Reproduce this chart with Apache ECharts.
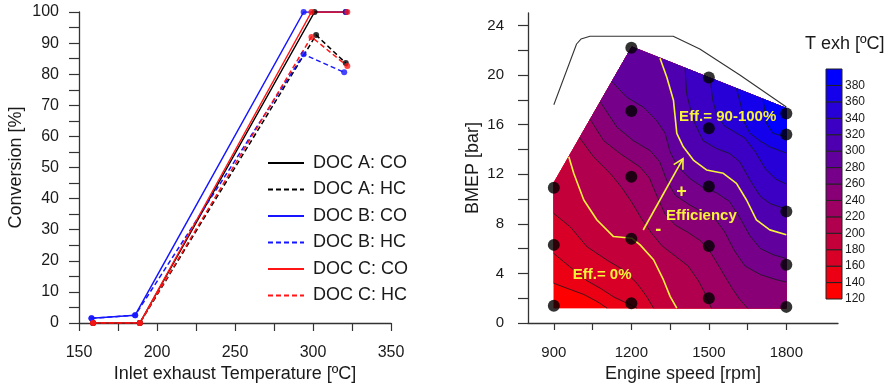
<!DOCTYPE html>
<html><head><meta charset="utf-8">
<script src="https://cdn.jsdelivr.net/npm/echarts@6/dist/echarts.min.js"></script>
<style>html,body{margin:0;padding:0;background:#fff}#c{width:894px;height:389px}</style>
</head><body><div id="c"></div>
<script>
// ================= LEFT CHART DATA =================
const docA_CO = [[159,0],[189,0],[301,100],[321,100]];
const docA_HC = [[159,0],[189,0],[302,92.6],[321,83.6]];
const docB_CO = [[158,1.5],[186,2.5],[294,100],[321,100]];
const docB_HC = [[158,1.5],[186,2.5],[294,86.4],[320,80.6]];
const docC_CO = [[159,0],[189,0],[299,100],[322,100]];
const docC_HC = [[159,0],[189,0],[299,92],[322,82.6]];
const seriesNames = ['DOC A: CO','DOC A: HC','DOC B: CO','DOC B: HC','DOC C: CO','DOC C: HC'];
const tempLabels = [150,200,250,300,350];
const tempTicks = [150,175,200,225,250,275,300,325,350];
const convLabels = [0,10,20,30,40,50,60,70,80,90,100];
const convTicks = [0,5,10,15,20,25,30,35,40,45,50,55,60,65,70,75,80,85,90,95,100];

// ================= RIGHT CHART DATA =================
const rpmLabels = [900,1200,1500,1800];
const rpmTicks = [900,1050,1200,1350,1500,1650,1800];
const bmepLabels = [0,4,8,12,16,20,24];
const bmepTicks = [0,2,4,6,8,10,12,14,16,18,20,22,24];
const measuredPoints = [
  [900,1.4],[900,6.3],[900,10.9],
  [1200,1.6],[1200,6.8],[1200,11.8],[1200,17.1],[1200,22.2],
  [1500,2.0],[1500,6.2],[1500,11.0],[1500,15.7],[1500,19.8],
  [1800,1.3],[1800,4.7],[1800,9.0],[1800,15.2],[1800,16.9]
];
const domainBoundary = [[900,1.2],[1800,1.2],[1800,17.3],[1202,22.26],[900,11.3]];
const fullLoadCurve = [[900,17.6],[988,22.5],[1005,22.9],[1040,23.13],[1362,23.13],[1465,22.1],[1620,20.0],[1800,17.42]];
const isoLevels = [140,160,180,200,220,240,260,280,300,320,340,360,380];
const yellowLevels = [200,300];
const iso140 = [[900,3.2],[951,2.8],[1016,2.3],[1067,1.74],[1106,1.2]];
const iso160 = [[900,5.6],[964,4.5],[1029,3.4],[1080,2.8],[1132,2.1],[1183,1.6],[1222,1.2]];
const iso180 = [[900,8.83],[964,7.75],[1029,6.14],[1106,5.07],[1170,4.27],[1222,3.2],[1260,2.12],[1286,1.2]];
const iso200 = [[958,13.405],[977,12.07],[1016,9.92],[1067,8.31],[1131,6.97],[1202,6.84],[1234,6.30],[1286,5.10],[1324,3.49],[1350,2.15],[1376,1.2]];
const iso220 = [[1000,14.93],[1054,13.4],[1119,12.05],[1160,11.0],[1200,9.8],[1240,8.4],[1280,7.2],[1320,6.2],[1370,5.4],[1420,4.6],[1460,3.4],[1490,2.2],[1510,1.2]];
const iso240 = [[1041,16.417],[1093,14.7],[1157,13.66],[1234,12.58],[1270,11.7],[1300,10.2],[1330,8.8],[1370,7.9],[1420,7.3],[1470,6.6],[1510,5.6],[1550,4.2],[1590,2.8],[1620,1.9],[1650,1.2]];
const iso260 = [[1080,17.832],[1144,15.8],[1208,14.7],[1273,13.9],[1310,13.0],[1337,11.5],[1370,10.3],[1420,9.6],[1470,9.0],[1520,8.5],[1560,7.4],[1600,5.8],[1640,4.6],[1700,3.9],[1760,3.5],[1800,3.3]];
const iso280 = [[1125,19.465],[1183,18.2],[1247,17.4],[1299,16.3],[1331,15.3],[1350,13.8],[1380,12.6],[1430,11.6],[1480,10.9],[1530,10.5],[1580,9.8],[1620,8.5],[1660,7.0],[1700,6.0],[1750,5.5],[1800,5.2]];
const iso300 = [[1311,21.356],[1337,19.84],[1363,17.97],[1376,15.29],[1401,14.21],[1440,13.14],[1491,12.34],[1556,12.07],[1607,11.26],[1646,9.92],[1684,8.31],[1736,7.51],[1800,7.11]];
const iso320 = [[1408,20.551],[1414,18.5],[1427,17.4],[1446,16.1],[1478,14.7],[1530,14.07],[1581,13.66],[1620,13.0],[1660,11.5],[1700,10.2],[1740,9.6],[1800,9.2]];
const iso340 = [[1505,19.747],[1515,18.0],[1530,16.8],[1560,15.9],[1600,15.4],[1640,14.9],[1680,13.8],[1720,12.4],[1760,11.6],[1800,11.2]];
const iso360 = [[1607,18.901],[1626,17.4],[1639,16.1],[1659,15.3],[1697,14.7],[1736,14.2],[1800,13.7]];
const iso380 = [[1710,18.047],[1723,16.1],[1748,15.3],[1800,15.0]];
const isolines = [iso140,iso160,iso180,iso200,iso220,iso240,iso260,iso280,iso300,iso320,iso340,iso360,iso380];
const colorbarLevels = [120,140,160,180,200,220,240,260,280,300,320,340,360,380,400];
const colorbarLabels = [120,140,160,180,200,220,240,260,280,300,320,340,360,380];
const annotationTexts = ['Eff.= 90-100%','Eff.= 0%','Efficiency','+','-'];
const annotationAnchors = [[1573,16.6],[1087,3.86],[1471,8.64],[1394,10.57],[1304,7.49]];
const arrowFrom = [1246,7.5];
const arrowTo = [1400,13.25];

// ================= BUILD =================
const FONT = "'Liberation Sans', Arial, Helvetica, sans-serif";
const TXT = '#1a1a1a';
const AX = '#333';
const YEL = '#f7f23a';
function bandColor(i){ const r=Math.round(255*(13-i)/13), b=Math.round(255*i/13); return 'rgb('+r+',0,'+b+')'; }
function toN(p){ return [p[0]/48, p[1]]; }
function edgeParam(p){
  let best=Infinity, param=0; const P=toN(p);
  for(let k=0;k<domainBoundary.length;k++){
    const A=toN(domainBoundary[k]), B=toN(domainBoundary[(k+1)%domainBoundary.length]);
    const dx=B[0]-A[0], dy=B[1]-A[1];
    let t=((P[0]-A[0])*dx+(P[1]-A[1])*dy)/(dx*dx+dy*dy);
    t=Math.max(0,Math.min(1,t));
    const qx=A[0]+t*dx-P[0], qy=A[1]+t*dy-P[1];
    const d=qx*qx+qy*qy;
    if(d<best){best=d;param=k+t;}
  }
  return param;
}
function hotPolygon(line){
  const n=domainBoundary.length;
  let pS=edgeParam(line[0]), pE=edgeParam(line[line.length-1]);
  if(pS<pE) pS+=n;
  const poly=line.slice();
  for(let k=Math.floor(pE)+1;k<pS;k++) poly.push(domainBoundary[k%n]);
  return poly;
}
const fillLayers=[{poly:domainBoundary,color:bandColor(0)}];
isolines.forEach((ln,i)=>fillLayers.push({poly:hotPolygon(ln),color:bandColor(i+1)}));

const axisCommon = {
  axisLine:{show:true,onZero:false,lineStyle:{color:AX,width:1.3}},
  splitLine:{show:false},
  nameLocation:'middle',
  nameMoveOverlap:false,
  nameTextStyle:{fontSize:18,color:TXT,fontFamily:FONT}
};
function lbl(vals,margin,size){ return {customValues:vals,margin:margin,fontSize:size,color:TXT,fontFamily:FONT,formatter:(v)=>String(v)}; }
function tck(vals,len){ return {show:true,customValues:vals,length:len,lineStyle:{color:AX,width:1.2}}; }

const leftData=[docA_CO,docA_HC,docB_CO,docB_HC,docC_CO,docC_HC];
const leftColors=['#000000','#000000','#1515ff','#1515ff','#ff1515','#ff1515'];
const series=[];
leftData.forEach((d,i)=>{
  series.push({type:'line',name:seriesNames[i],xAxisIndex:0,yAxisIndex:0,data:d,symbol:'none',
    lineStyle:{color:leftColors[i],width:1.5,type:(i%2===1)?[5,3]:'solid'},itemStyle:{color:leftColors[i]},z:2+Math.floor(i/2)});
});
leftData.forEach((d,i)=>{
  series.push({type:'scatter',xAxisIndex:0,yAxisIndex:0,data:d,symbol:'circle',symbolSize:6,
    itemStyle:{color:leftColors[i]},z:5});
});
// contour fills
series.push({type:'custom',xAxisIndex:1,yAxisIndex:1,silent:true,z:1,
  data:fillLayers.map((f,i)=>[f.poly[0][0],f.poly[0][1],i]),
  renderItem:(params,api)=>{ const f=fillLayers[params.dataIndex];
    return {type:'polygon',shape:{points:f.poly.map(p=>api.coord(p))},style:{fill:f.color,stroke:f.color,lineWidth:0.6}}; }
});
// contour lines
isolines.forEach((ln,i)=>{
  const yel=yellowLevels.indexOf(isoLevels[i])>=0;
  series.push({type:'line',xAxisIndex:1,yAxisIndex:1,data:ln,symbol:'none',silent:true,
    lineStyle:{color:yel?YEL:'#1a1a1a',width:yel?1.6:0.8},z:yel?4:3});
});
// full-load curve
series.push({type:'line',xAxisIndex:1,yAxisIndex:1,data:fullLoadCurve,symbol:'none',silent:true,
  lineStyle:{color:'#333',width:1.1},z:3});
// measured points
series.push({type:'scatter',xAxisIndex:1,yAxisIndex:1,data:measuredPoints,symbol:'circle',symbolSize:12,
  itemStyle:{color:'#000'},z:6});
// arrow
series.push({type:'custom',xAxisIndex:1,yAxisIndex:1,silent:true,z:7,data:[[arrowFrom[0],arrowFrom[1],arrowTo[0],arrowTo[1]]],
  renderItem:(params,api)=>{
    const p0=api.coord(arrowFrom), p1=api.coord(arrowTo);
    const ang=Math.atan2(p1[1]-p0[1],p1[0]-p0[0]), L=11, a=0.5;
    const h1=[p1[0]-L*Math.cos(ang-a),p1[1]-L*Math.sin(ang-a)];
    const h2=[p1[0]-L*Math.cos(ang+a),p1[1]-L*Math.sin(ang+a)];
    const st={stroke:YEL,lineWidth:1.6,fill:null};
    return {type:'group',children:[
      {type:'line',shape:{x1:p0[0],y1:p0[1],x2:p1[0],y2:p1[1]},style:st},
      {type:'polyline',shape:{points:[h1,p1,h2]},style:st}
    ]};
  }});
// annotations
series.push({type:'custom',xAxisIndex:1,yAxisIndex:1,silent:true,z:8,
  data:annotationAnchors.map((p,i)=>[p[0],p[1],i]),
  renderItem:(params,api)=>{
    const i=params.dataIndex; const p=api.coord(annotationAnchors[i]);
    const big=annotationTexts[i].length===1;
    return {type:'text',x:p[0],y:p[1],style:{text:annotationTexts[i],fill:YEL,
      font:'bold '+(big?18:15)+'px '+FONT,align:'center',verticalAlign:'middle'}};
  }});
// colorbar
series.push({type:'custom',xAxisIndex:2,yAxisIndex:2,silent:true,z:2,
  data:colorbarLevels.slice(0,-1).map((lo,i)=>[0,lo,colorbarLevels[i+1],i]),
  renderItem:(params,api)=>{
    const i=params.dataIndex;
    const a=api.coord([0,colorbarLevels[i+1]]), b=api.coord([1,colorbarLevels[i]]);
    return {type:'rect',shape:{x:a[0],y:a[1],width:b[0]-a[0],height:b[1]-a[1]},
      style:{fill:bandColor(i),stroke:'#222',lineWidth:1}};
  }});

const option={
  animation:false,
  backgroundColor:'#fff',
  textStyle:{fontFamily:FONT},
  title:{text:'T exh [ºC]',left:805,top:35,padding:0,textStyle:{fontSize:18,fontWeight:'normal',color:TXT,fontFamily:FONT}},
  legend:{data:seriesNames,orient:'vertical',left:262,top:149,itemWidth:36,itemHeight:18,itemGap:8.5,
    itemStyle:{color:'rgba(0,0,0,0)',borderWidth:0,opacity:0},
    textStyle:{fontSize:18,color:TXT,fontFamily:FONT,padding:[0,0,0,4]},selectedMode:false},
  grid:[
    {left:79,top:12,width:312,height:311,containLabel:false,outerBoundsMode:'none'},
    {left:528,top:13,width:310,height:310,containLabel:false,outerBoundsMode:'none'},
    {left:826,top:69,width:16,height:230,containLabel:false,outerBoundsMode:'none'}
  ],
  xAxis:[
    Object.assign({},axisCommon,{gridIndex:0,type:'value',min:150,max:350,
      axisTick:tck(tempTicks,8),axisLabel:lbl(tempLabels,22,16),
      name:'Inlet exhaust Temperature [ºC]',nameGap:42}),
    Object.assign({},axisCommon,{gridIndex:1,type:'value',min:800,max:2000,
      axisTick:tck(rpmTicks,7),axisLabel:lbl(rpmLabels,22,15),
      name:'Engine speed [rpm]',nameGap:42}),
    {gridIndex:2,type:'value',min:0,max:1,show:false}
  ],
  yAxis:[
    Object.assign({},axisCommon,{gridIndex:0,type:'value',min:0,max:100,
      axisTick:tck(convTicks,10),axisLabel:lbl(convLabels,20,16),
      name:'Conversion [%]',nameGap:54}),
    Object.assign({},axisCommon,{gridIndex:1,type:'value',min:0,max:25,
      axisTick:tck(bmepTicks,10),axisLabel:lbl(bmepLabels,24,15),
      name:'BMEP [bar]',nameGap:46}),
    {gridIndex:2,type:'value',min:120,max:400,position:'right',
      axisLine:{show:false},axisTick:{show:false},splitLine:{show:false},
      axisLabel:{customValues:colorbarLabels,margin:3,fontSize:12,color:TXT,fontFamily:FONT}}
  ],
  series:series
};
const chart=echarts.init(document.getElementById('c'));
chart.setOption(option);
</script>
</body></html>
